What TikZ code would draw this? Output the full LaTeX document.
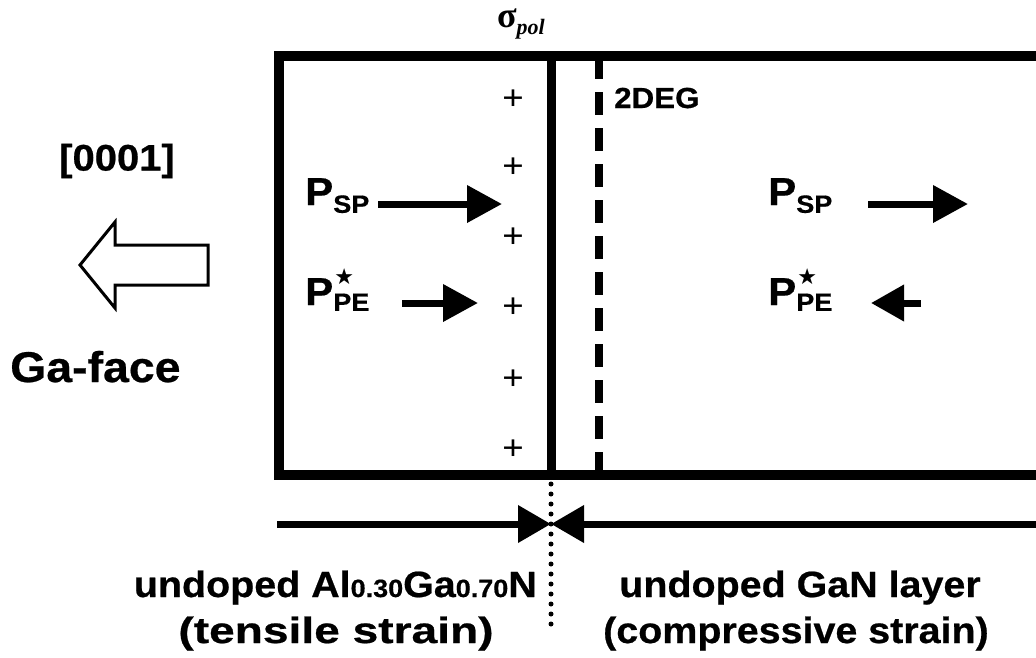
\documentclass[tikz,border=0pt]{standalone}
\usepackage{fontspec}
\setmainfont{Liberation Sans}[FakeStretch=1.08, BoldFeatures={FakeBold=0.6}]
\newfontfamily\serifbf{Liberation Serif}
\newfontfamily\symfont{DejaVu Sans}
\usetikzlibrary{arrows.meta}
\tikzset{
  wall/.style={line width=10pt},
  lbl/.style={font=\bfseries, inner sep=0pt},
  plussign/.style={font=\fontsize{34}{34}\selectfont, inner sep=0pt},
  bigarrow/.style={line width=7pt, -{Triangle[length=35pt,width=36pt]}},
  smallarrow/.style={line width=7pt, -{Triangle[length=33pt,width=35pt]}},
  dimarrow/.style={line width=7pt, -{Triangle[length=33pt,width=36pt]}},
  bottomtext/.style={lbl, font=\bfseries\fontsize{36.5}{36.5}\selectfont},
  plabel/.style={lbl, anchor=base west, font=\bfseries\fontsize{39}{39}\selectfont},
}
\newcommand{\subsz}[1]{{\fontsize{25}{25}\selectfont #1}}
\newcommand{\pstar}{\rlap{\kern1pt\raisebox{21pt}{\symfont\fontsize{22}{22}\selectfont ★}}}
\begin{document}
\begin{tikzpicture}[x=1pt,y=-1pt]
\useasboundingbox (0,0) rectangle (1036,657);
\clip (0,0) rectangle (1036,657);
% box
\draw[wall, line join=miter] (1050,56) -- (279,56) -- (279,475) -- (1050,475);
% interface
\draw[line width=9pt] (551,56) -- (551,475);
% 2DEG dashed
\draw[line width=8pt, dash pattern=on 23pt off 13pt] (599,56) -- (599,475);
% sigma label
\node[inner sep=0pt, anchor=base] (sig) at (521,27) {\serifbf\bfseries\fontsize{36}{36}\selectfont σ\raisebox{-0.22em}{\fontsize{22}{22}\selectfont\itshape pol}};
% plus signs
\foreach \yy/\nm in {100/p1,168/p2,238/p3,308/p4,380/p5,450/p6}
  \node[plussign] (\nm) at (513,\yy) {+};
% 2DEG
\node[lbl, anchor=base west, font=\bfseries\fontsize{29}{29}\selectfont] (deg) at (614,108) {2DEG};
% left labels
\node[plabel] (lsp) at (305,205) {P\raisebox{-0.2em}{\fontsize{25}{25}\selectfont SP}};
\node[plabel] (lpe) at (305,305) {P\pstar\raisebox{-0.15em}{\fontsize{25}{25}\selectfont PE}};
% right labels
\node[plabel] (rsp) at (768,205) {P\raisebox{-0.2em}{\fontsize{25}{25}\selectfont SP}};
\node[plabel] (rpe) at (768,305) {P\pstar\raisebox{-0.15em}{\fontsize{25}{25}\selectfont PE}};
% arrows
\coordinate (a1s) at (378,204); \coordinate (a1e) at (502,204);
\coordinate (a2s) at (402,303); \coordinate (a2e) at (478,303);
\coordinate (a3s) at (868,204); \coordinate (a3e) at (968,204);
\coordinate (a4s) at (921,303); \coordinate (a4e) at (871,303);
\draw[bigarrow] (a1s) -- (a1e);
\draw[bigarrow] (a2s) -- (a2e);
\draw[bigarrow] (a3s) -- (a3e);
\draw[smallarrow] (a4s) -- (a4e);
% left side: direction
\node[lbl, font=\bfseries\fontsize{37}{37}\selectfont] (dir) at (117,161) {[0001]};
\draw[line width=3pt, line join=miter] (80,265) -- (115,222) -- (115,245) -- (208,245) -- (208,285) -- (115,285) -- (115,308) -- cycle;
\node[lbl, anchor=base west, font=\bfseries\fontsize{43}{43}\selectfont] (ga) at (10,382) {Ga-face};
% dimension line
\coordinate (dl) at (277,524); \coordinate (dm) at (551,524); \coordinate (dr) at (1050,524);
\draw[dimarrow] (dl) -- (dm);
\draw[dimarrow] (dr) -- (dm);
% dotted separator
\coordinate (dt) at (551,484); \coordinate (db) at (551,634);
\draw[line width=5pt, line cap=round, dash pattern=on 0pt off 10pt] (dt) -- (db);
% bottom labels
\node[bottomtext, anchor=base east] (b1) at (537,597) {undoped Al\subsz{0.30}Ga\subsz{0.70}N};
\node[bottomtext, anchor=base] (b2) at (336,643) {\scalebox{1.17}[1]{(tensile strain)}};
\node[bottomtext, anchor=base] (b3) at (800,597) {undoped GaN layer};
\node[bottomtext, anchor=base] (b4) at (796,643) {(compressive strain)};
\end{tikzpicture}
\end{document}
